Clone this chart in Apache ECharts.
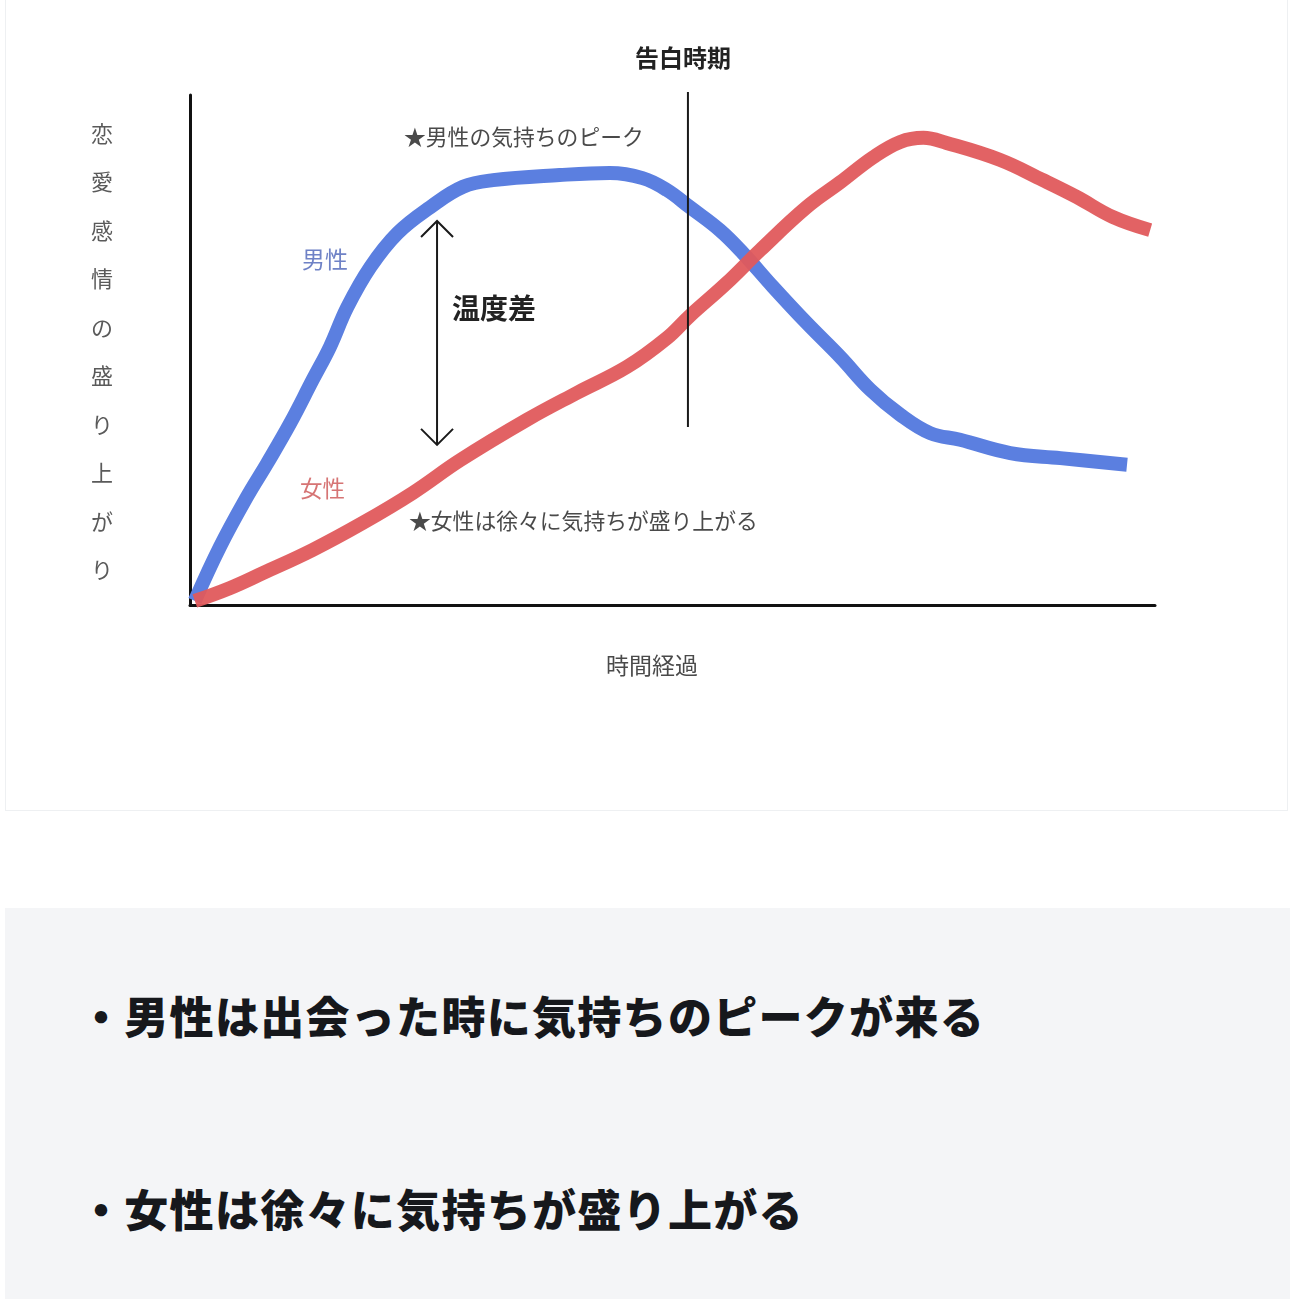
<!DOCTYPE html>
<html>
<head>
<meta charset="utf-8">
<script src="https://cdn.jsdelivr.net/npm/echarts@6/dist/echarts.min.js"></script>
<style>
  html, body { margin: 0; padding: 0; background: #ffffff; width: 1290px; height: 1299px; overflow: hidden; }
  body { position: relative; font-family: "Noto Sans CJK JP", "Noto Sans", sans-serif; }
  #card { position: absolute; left: 5px; top: -1px; width: 1281px; height: 810px; border: 1px solid #eef0f2; background: #fff; }
  #chart { position: absolute; left: 0; top: 0; width: 1290px; height: 812px; }
  #box { position: absolute; left: 5px; top: 908px; width: 1285px; height: 391px; background: #f4f5f7; }
  .point { position: absolute; left: 79px; font-size: 44px; font-weight: 900; color: #16181c; line-height: 60px; letter-spacing: 1.3px; white-space: nowrap; }
</style>
</head>
<body>
<div id="card"></div>
<div id="chart"></div>
<div id="box"></div>
<div class="point" id="p1" style="top:985px;"></div>
<div class="point" id="p2" style="top:1178px;"></div>
<script>
// ---- data ----
const maleX = [0.5, 3.1, 5.9, 8.0, 10.4, 12.7, 14.5, 16.3, 18.7, 21.5, 24.9, 28.3, 31.4, 38.3, 43.5, 46.9, 49.4, 51.8, 54.9, 57.3, 60.4, 63.9, 67.4, 70.5, 73.6, 76.7, 79.8, 85.0, 90.2, 97.1];
const maleY = [0.8, 11.4, 21.2, 27.8, 35.7, 44.1, 50.6, 58.4, 66.3, 72.9, 78.0, 82.0, 83.3, 84.3, 84.7, 83.7, 81.4, 78.0, 73.5, 69.0, 62.4, 55.3, 48.6, 42.2, 37.3, 33.7, 32.4, 29.8, 28.8, 27.5];
const femaleX = [0.5, 4.1, 7.6, 12.7, 17.9, 23.1, 28.0, 34.9, 40.1, 45.3, 49.4, 51.8, 55.6, 59.1, 63.9, 67.4, 70.8, 73.6, 76.0, 78.4, 83.9, 88.4, 91.9, 95.6, 99.5];
const femaleY = [0.8, 3.3, 6.3, 10.8, 16.1, 22.0, 28.4, 36.3, 41.6, 46.7, 52.3, 56.7, 63.1, 69.6, 78.0, 82.9, 87.8, 90.8, 91.6, 90.6, 87.3, 83.3, 80.0, 76.1, 73.5];
const confessX = 51.6, confessTop = 100.6, confessBottom = 34.9;
const gapX = 25.6, gapTop = 75.3, gapBottom = 31.4;

const yAxisTitle = '恋愛感情の盛り上がり';
const xAxisTitle = '時間経過';
const confessLabel = '告白時期';
const malePeakNote = '★男性の気持ちのピーク';
const femaleNote = '★女性は徐々に気持ちが盛り上がる';
const maleLabel = '男性';
const femaleLabel = '女性';
const gapLabel = '温度差';
const bullets = ['・男性は出会った時に気持ちのピークが来る', '・女性は徐々に気持ちが盛り上がる'];

document.getElementById('p1').textContent = bullets[0];
document.getElementById('p2').textContent = bullets[1];

const maleData = maleX.map((x, i) => [x, maleY[i]]);
const femaleData = femaleX.map((x, i) => [x, femaleY[i]]);

const FONT = '"Noto Sans CJK JP", "Noto Sans", sans-serif';
const chart = echarts.init(document.getElementById('chart'), null, { renderer: 'canvas' });

const axisCommon = {
  type: 'value', min: 0, max: 100,
  axisLine: { show: true, lineStyle: { color: '#111', width: 3 } },
  axisTick: { show: false }, axisLabel: { show: false }, splitLine: { show: false }
};

chart.setOption({
  animation: false,
  backgroundColor: 'transparent',
  grid: { left: 190, right: 135, top: 95, bottom: 207 },
  xAxis: axisCommon,
  yAxis: axisCommon,
  graphic: [
    { type: 'text', style: { text: confessLabel, x: 683, y: 58, align: 'center', verticalAlign: 'middle', font: 'bold 24px ' + FONT, fill: '#222' } },
    { type: 'text', style: { text: malePeakNote, x: 404, y: 137, align: 'left', verticalAlign: 'middle', font: '21.8px ' + FONT, fill: '#4a4a4a' } },
    { type: 'text', style: { text: maleLabel, x: 302, y: 259, align: 'left', verticalAlign: 'middle', font: '23px ' + FONT, fill: '#6f82c6' } },
    { type: 'text', style: { text: gapLabel, x: 452, y: 308, align: 'left', verticalAlign: 'middle', font: 'bold 28px ' + FONT, fill: '#222' } },
    { type: 'text', style: { text: femaleLabel, x: 300, y: 488, align: 'left', verticalAlign: 'middle', font: '22.5px ' + FONT, fill: '#d67474' } },
    { type: 'text', style: { text: femaleNote, x: 409, y: 521, align: 'left', verticalAlign: 'middle', font: '21.8px ' + FONT, fill: '#4a4a4a' } },
    { type: 'text', style: { text: yAxisTitle.split('').join('\n'), x: 102, y: 109, align: 'center', verticalAlign: 'top', lineHeight: 48.5, font: '22px ' + FONT, fill: '#5a5a5a' } },
    { type: 'text', style: { text: xAxisTitle, x: 652, y: 665, align: 'center', verticalAlign: 'middle', font: '23px ' + FONT, fill: '#4a4a4a' } }
  ],
  series: [
    {
      name: maleLabel, type: 'line', data: maleData, smooth: 0.4, showSymbol: false, symbol: 'none',
      lineStyle: { color: '#5b7fe0', width: 14, cap: 'butt', join: 'round' }, z: 2
    },
    {
      name: femaleLabel, type: 'line', data: femaleData, smooth: 0.4, showSymbol: false, symbol: 'none',
      lineStyle: { color: '#e05a5c', width: 14, cap: 'butt', join: 'round', opacity: 0.95 }, z: 3
    },
    {
      type: 'custom', z: 10, clip: false,
      data: [[confessX, confessTop, confessBottom, gapX, gapTop, gapBottom]],
      renderItem: function (params, api) {
        const c1 = api.coord([api.value(0), api.value(1)]);
        const c2 = api.coord([api.value(0), api.value(2)]);
        const a1 = api.coord([api.value(3), api.value(4)]);
        const a2 = api.coord([api.value(3), api.value(5)]);
        const hw = 16, hh = 16;
        const st = { stroke: '#1a1a1a', lineWidth: 2, fill: null };
        return {
          type: 'group',
          children: [
            { type: 'line', shape: { x1: c1[0], y1: c1[1], x2: c2[0], y2: c2[1] }, style: { stroke: '#1a1a1a', lineWidth: 2 } },
            { type: 'line', shape: { x1: a1[0], y1: a1[1], x2: a2[0], y2: a2[1] }, style: st },
            { type: 'polyline', shape: { points: [[a1[0] - hw, a1[1] + hh], [a1[0], a1[1]], [a1[0] + hw, a1[1] + hh]] }, style: st },
            { type: 'polyline', shape: { points: [[a2[0] - hw, a2[1] - hh], [a2[0], a2[1]], [a2[0] + hw, a2[1] - hh]] }, style: st }
          ]
        };
      }
    }
  ]
});
</script>
</body>
</html>
